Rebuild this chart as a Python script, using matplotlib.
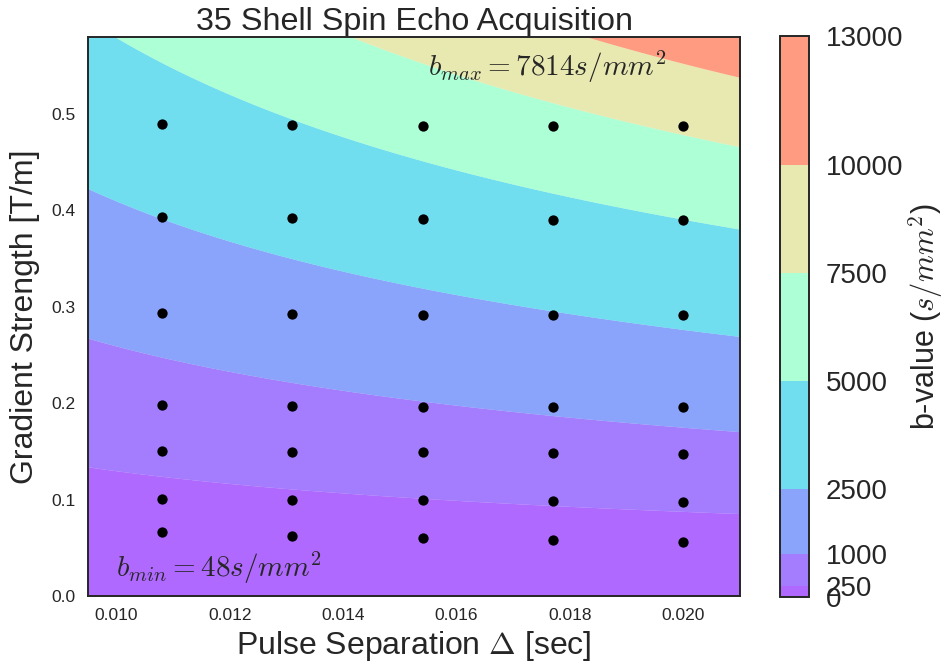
import numpy as np
import matplotlib
matplotlib.use("Agg")
import matplotlib.pyplot as plt

plt.rcParams['font.family'] = ['Liberation Sans', 'DejaVu Sans']
plt.rcParams['mathtext.fontset'] = 'cm'
plt.rcParams['text.color'] = '#262626'
plt.rcParams['axes.labelcolor'] = '#262626'
plt.rcParams['xtick.color'] = '#262626'
plt.rcParams['ytick.color'] = '#262626'

# ---- data ----
delta_sep = [0.0108, 0.0131, 0.0154, 0.0177, 0.0200]          # pulse separation (s)
grad_col1 = [0.490, 0.393, 0.294, 0.198, 0.150, 0.101, 0.066]
grad_col2 = [0.489, 0.392, 0.293, 0.197, 0.149, 0.100, 0.062]
grad_col3 = [0.488, 0.391, 0.292, 0.196, 0.149, 0.0995, 0.060]
grad_col4 = [0.488, 0.3905, 0.292, 0.196, 0.148, 0.099, 0.058]
grad_col5 = [0.4875, 0.390, 0.292, 0.196, 0.1476, 0.098, 0.056]
grad_cols = [grad_col1, grad_col2, grad_col3, grad_col4, grad_col5]

b_levels = [0, 250, 1000, 2500, 5000, 7500, 10000, 13000]
gamma = 2.675e8        # rad/s/T
pulse_width = 0.005    # s
xlim = (0.0095, 0.021)
ylim = (0.0, 0.58)
b_min_text = r'$b_{min} = 48 s/mm^2$'
b_max_text = r'$b_{max} = 7814 s/mm^2$'

# ---- figure ----
fig = plt.figure(figsize=(9.49, 6.70), dpi=100)
ax = fig.add_axes([88/949, 1-596/670, (740-88)/949, (596-37)/670])
cax = fig.add_axes([780/949, 1-597/670, 29/949, (597-36)/670])

D, G = np.meshgrid(np.linspace(xlim[0], xlim[1], 400), np.linspace(ylim[0], ylim[1], 400))
B = gamma**2 * G**2 * pulse_width**2 * (D - pulse_width/3) * 1e-6
cs = ax.contourf(D, G, B, levels=b_levels, cmap='rainbow', alpha=0.6, antialiased=True)

for d, gs in zip(delta_sep, grad_cols):
    ax.scatter([d]*len(gs), gs, s=55, c='k', linewidths=0, zorder=5)

ax.set_xlim(*xlim)
ax.set_ylim(*ylim)
ax.set_xticks([0.010, 0.012, 0.014, 0.016, 0.018, 0.020])
ax.set_yticks([0.0, 0.1, 0.2, 0.3, 0.4, 0.5])
ax.xaxis.set_major_formatter(matplotlib.ticker.FormatStrFormatter('%.3f'))
ax.yaxis.set_major_formatter(matplotlib.ticker.FormatStrFormatter('%.1f'))
ax.tick_params(axis='both', length=0, pad=9, labelsize=12.5)
for sp in ax.spines.values():
    sp.set_color('#262626')
    sp.set_linewidth(1.4)

ax.set_xlabel(r'Pulse Separation $\Delta$ [sec]', fontsize=23, labelpad=4)
ax.set_ylabel('Gradient Strength [T/m]', fontsize=23, labelpad=8)
ax.set_title('35 Shell Spin Echo Acquisition', fontsize=23.3, pad=4)

ax.text(0.0155, 0.54, b_max_text, fontsize=21)
ax.text(0.0100, 0.02, b_min_text, fontsize=21)

cb = fig.colorbar(cs, cax=cax, ticks=b_levels, spacing='proportional')
cb.outline.set_edgecolor('#262626')
cb.outline.set_linewidth(1.4)
cax.tick_params(length=0, pad=12, labelsize=20)
cb.set_label(r'b-value ($s/mm^2$)', fontsize=22, labelpad=2)

fig.savefig('out.png', dpi=100)
